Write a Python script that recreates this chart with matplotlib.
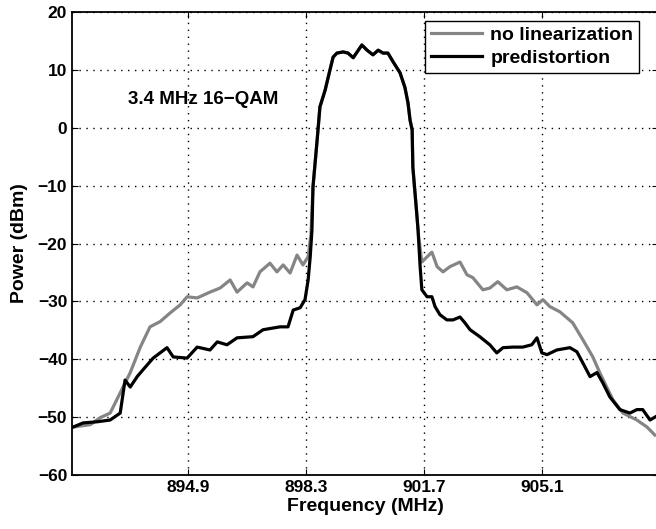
import matplotlib
matplotlib.use("Agg")
import matplotlib.pyplot as plt

plt.rcParams['font.family'] = ['Liberation Sans', 'DejaVu Sans']
plt.rcParams['font.weight'] = 'bold'

# no linearization (gray)
f_nolin = [891.59, 892.08, 892.36, 892.65, 892.94, 893.23, 893.52, 893.80, 894.09, 894.38,
           894.67, 894.87, 895.16, 895.53, 895.82, 896.11, 896.31, 896.60, 896.77, 896.97,
           897.26, 897.46, 897.64, 897.84, 898.04, 898.21, 898.36, 898.44,
           898.50, 898.62, 898.70, 898.85, 898.99, 899.08, 899.19, 899.37, 899.51, 899.66,
           899.91, 900.06, 900.23, 900.38, 900.52, 900.66, 900.81, 901.01, 901.15, 901.24,
           901.30, 901.36, 901.38, 901.50, 901.55,
           901.64, 901.79, 901.93, 902.08, 902.25, 902.45, 902.74, 902.94, 903.11, 903.40,
           903.60, 903.83, 904.09, 904.38, 904.67, 904.96, 905.13, 905.33, 905.62, 905.99,
           906.28, 906.57, 906.77, 906.97, 907.15, 907.44, 907.84, 908.13, 908.36]
p_nolin = [-51.7, -51.3, -50.1, -49.3, -45.8, -42.3, -37.9, -34.4, -33.5, -32.0,
           -30.6, -29.2, -29.4, -28.4, -27.7, -26.3, -28.4, -26.8, -27.5, -24.9,
           -23.4, -24.9, -23.7, -25.1, -22.0, -23.7, -22.3, -18.5,
           -10.2, -2.1, 3.6, 6.5, 10.0, 12.2, 12.9, 13.1, 12.9, 12.1,
           14.3, 13.4, 12.6, 13.4, 12.9, 12.9, 11.4, 9.5, 7.0, 4.3,
           1.3, -0.4, -6.8, -15.4, -19.0,
           -23.2, -22.3, -21.5, -24.0, -24.9, -24.0, -23.2, -25.4, -25.9, -28.0,
           -27.7, -26.6, -28.0, -27.5, -28.5, -30.6, -29.7, -30.9, -31.8, -33.7,
           -36.6, -39.6, -42.3, -44.8, -47.0, -49.3, -50.5, -51.7, -53.1]

# predistortion (black)
f_pd = [891.59, 891.87, 892.28, 892.65, 892.94, 893.08, 893.23, 893.43, 893.60, 893.89,
        894.29, 894.47, 894.87, 895.16, 895.53, 895.74, 896.02, 896.31, 896.77, 897.06,
        897.55, 897.78, 897.93, 898.13, 898.27, 898.36, 898.42, 898.47,
        898.50, 898.62, 898.70, 898.85, 898.99, 899.08, 899.19, 899.37, 899.51, 899.66,
        899.91, 900.06, 900.23, 900.38, 900.52, 900.66, 900.81, 901.01, 901.15, 901.24,
        901.30, 901.36, 901.38, 901.50, 901.53, 901.59,
        901.64, 901.79, 901.93, 902.02, 902.16, 902.36, 902.54, 902.74, 902.88, 903.03,
        903.31, 903.60, 903.80, 903.98, 904.27, 904.55, 904.81, 904.96, 905.10, 905.25,
        905.53, 905.91, 906.11, 906.28, 906.49, 906.69, 906.86, 907.06, 907.35, 907.64,
        907.84, 908.01, 908.22, 908.39]
p_pd = [-51.7, -51.0, -50.8, -50.5, -49.3, -43.6, -44.8, -43.0, -41.8, -39.8,
        -38.0, -39.6, -39.8, -37.9, -38.4, -37.0, -37.5, -36.3, -36.1, -34.9,
        -34.4, -34.4, -31.5, -31.1, -29.7, -26.3, -22.3, -17.7,
        -10.2, -2.1, 3.6, 6.5, 10.0, 12.2, 12.9, 13.1, 12.9, 12.1,
        14.3, 13.4, 12.6, 13.4, 12.9, 12.9, 11.4, 9.5, 7.0, 4.3,
        1.3, -0.4, -6.8, -15.4, -17.7, -24.0,
        -28.0, -29.2, -29.2, -30.9, -32.3, -33.2, -33.2, -32.7, -33.7, -34.9,
        -36.1, -37.5, -38.9, -38.0, -37.9, -37.9, -37.5, -36.3, -38.9, -39.2,
        -38.4, -38.0, -38.7, -40.6, -43.0, -42.3, -44.1, -46.5, -48.7, -49.3,
        -48.7, -48.7, -50.5, -49.9]

xticks = [894.9, 898.3, 901.7, 905.1]
yticks = [-60, -50, -40, -30, -20, -10, 0, 10, 20]

fig = plt.figure(figsize=(6.56, 5.29), dpi=100)
ax = fig.add_axes([72 / 656, 1 - 475 / 529, 586 / 656, 463 / 529])

ax.plot(f_nolin, p_nolin, color='#858585', lw=2.3, label='no linearization')
ax.plot(f_pd, p_pd, color='black', lw=2.3, label='predistortion')

ax.set_xlim(891.55, 908.45)
ax.set_ylim(-60, 20)
ax.set_xticks(xticks)
ax.set_xticklabels([f'{v:.1f}' for v in xticks])
ax.set_yticks(yticks)
ax.tick_params(direction='in', top=True, right=True, labelsize=12.5, length=4)
ax.grid(True, color='black', linestyle=(0, (1, 4)), linewidth=1.0)
for s in ax.spines.values():
    s.set_linewidth(1.3)

ax.set_xlabel('Frequency (MHz)', fontsize=14, fontweight='bold', labelpad=2)
ax.set_ylabel('Power (dBm)', fontsize=14, fontweight='bold', labelpad=7)

ax.text(893.17, 4.8, '3.4 MHz 16\u2212QAM', fontsize=13.5, fontweight='bold',
        ha='left', va='center')

leg = ax.legend(loc='upper left', bbox_to_anchor=(0.603, 0.981), borderaxespad=0,
                fancybox=False, framealpha=1, edgecolor='black', fontsize=14,
                handlelength=2.6, handletextpad=0.45, labelspacing=0.25,
                borderpad=0.3)
leg.get_frame().set_linewidth(1.0)
for t in leg.get_texts():
    t.set_fontweight('bold')

fig.savefig('out.png', dpi=100)
